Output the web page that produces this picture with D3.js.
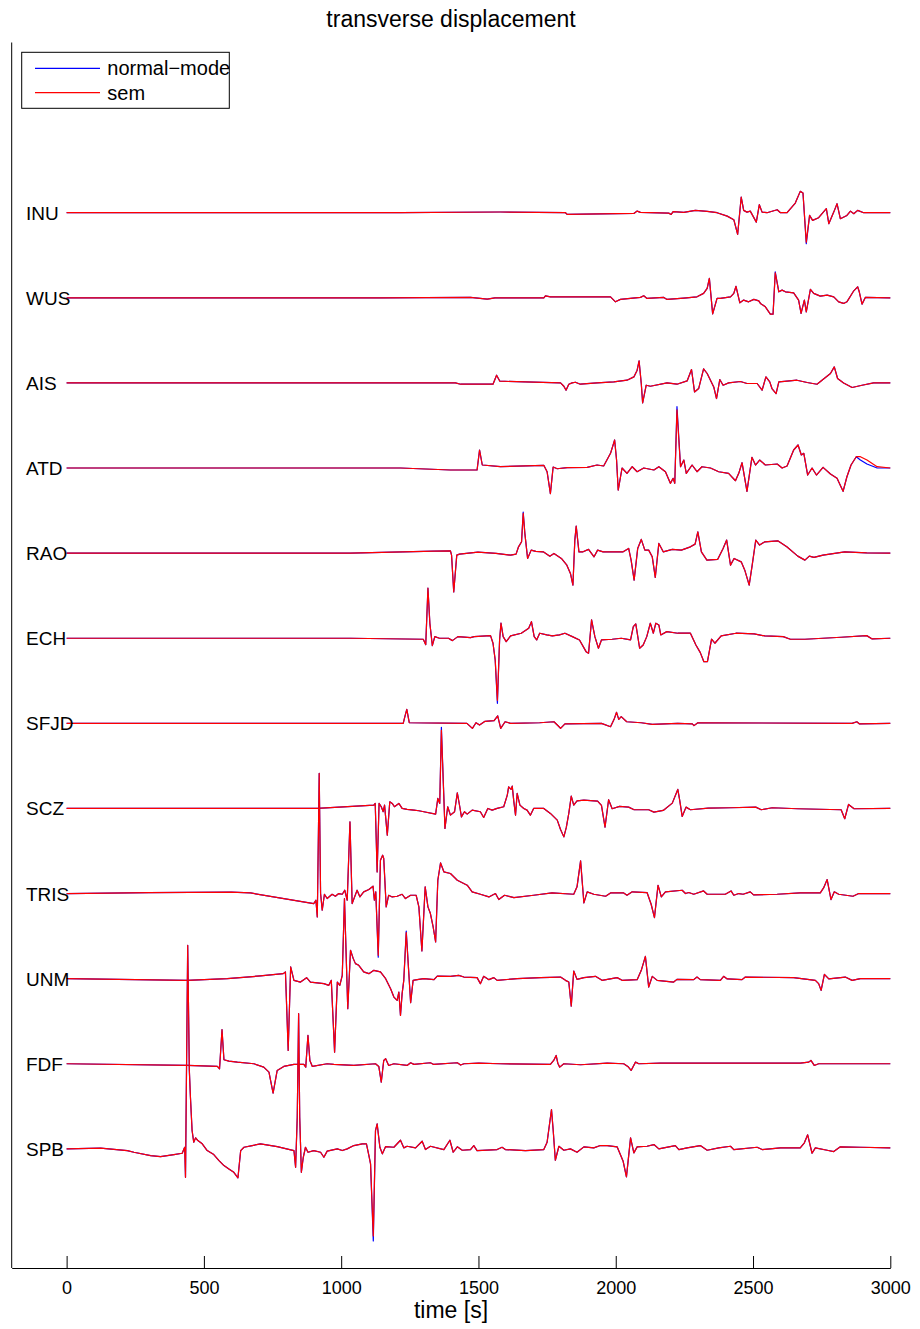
<!DOCTYPE html>
<html>
<head>
<meta charset="utf-8">
<script src="https://cdnjs.cloudflare.com/ajax/libs/d3/7.8.5/d3.min.js"></script>
<style>
  body { margin: 0; background: #fff; }
  text { font-family: "Liberation Sans", Arial, Helvetica, sans-serif; fill: #000; }
</style>
</head>
<body>
<svg id="chart" width="920" height="1329"></svg>
<script>
// station names top to bottom, and their vertical offsets
let stations = ['INU', 'WUS', 'AIS', 'ATD', 'RAO', 'ECH', 'SFJD', 'SCZ', 'TRIS', 'UNM', 'FDF', 'SPB']
let stationOffsets = [12, 11, 10, 9, 8, 7, 6, 5, 4, 3, 2, 1]
let timeTicks = [0, 500, 1000, 1500, 2000, 2500, 3000]
// amplitudes below are given in 1/85 of the spacing between two traces
let ampPerTrace = 85

// sem traces: [time (s), amplitude]
let INU = [[0,0],[1216,0],[1580,0.7],[1817,0],[1823,-1.7],[2066,-0.7],[2078,1.6],[2090,0.3],[2193,-0.4],[2202,-1.7],[2209,1],[2248,0.3],[2290,2.3],[2333,1.3],[2369,0],[2406,-3.4],[2430,-7],[2444,-21.7],[2457,15.6],[2466,2.3],[2478,0.6],[2490,1.6],[2512,-9.4],[2523,8],[2533,0.6],[2551,0],[2588,3],[2600,0],[2624,0],[2654,9.6],[2672,21.3],[2682,19.6],[2694,-29.4],[2706,-2.7],[2717,-7.7],[2739,-5],[2767,4],[2776,-11],[2794,0.6],[2806,9],[2818,-6],[2842,-2.7],[2855,1.6],[2867,-1],[2881,2.3],[2903,0],[3000,0]]
let WUS = [[0,0],[1143,0],[1471,0.4],[1532,-1.3],[1560,0],[1738,0],[1744,2],[1762,1],[1981,1],[1999,-4],[2017,-1.6],[2090,0.4],[2102,2],[2114,-0.6],[2175,0.4],[2187,-1.6],[2248,-0.3],[2296,1],[2320,4.4],[2333,9.4],[2341,19.4],[2353,-16],[2369,-0.6],[2381,-0.6],[2418,1],[2430,4.4],[2438,11.5],[2452,-5],[2466,-2.3],[2484,-4],[2503,-1.6],[2521,-3],[2527,-5.6],[2545,-9],[2563,-16.3],[2573,-16.3],[2581,25],[2594,6],[2606,7.7],[2618,6],[2648,5],[2666,-2.3],[2675,-15.6],[2687,-2.3],[2694,-14],[2709,8.4],[2721,4.4],[2745,1.7],[2770,2.7],[2794,1],[2812,-4],[2830,-5.6],[2842,-4],[2867,7],[2881,11],[2887,6],[2897,-6.3],[2909,0.4],[3000,0]]
let AIS = [[0,0],[1416,0],[1435,-1.3],[1553,-1.3],[1566,7.7],[1578,1.7],[1701,0.7],[1799,0],[1811,-3.3],[1819,-7.3],[1829,-1.3],[1841,0],[1853,0.7],[1871,-1.3],[1932,0],[1993,1],[2041,2.7],[2066,6],[2078,12.7],[2085,22],[2093,-0.6],[2098,-20],[2111,-2.3],[2126,-3.3],[2187,0],[2223,-1.3],[2260,2],[2276,13.4],[2287,-9],[2302,-5.6],[2320,14],[2333,9.4],[2357,-4],[2367,-15.6],[2379,3.4],[2391,-2.3],[2411,0],[2454,1.4],[2478,-0.6],[2515,-0.6],[2533,-7.3],[2547,6],[2561,1],[2569,-5.6],[2584,-10.6],[2594,1],[2624,1.7],[2660,2.7],[2697,0.4],[2733,-1.3],[2782,9.4],[2796,16],[2808,4.4],[2830,0],[2861,-4.6],[2897,-2.3],[2939,0],[3000,0]]
let ATD = [[0,0],[1216,0],[1398,-2],[1495,-2],[1504,18],[1514,3],[1580,1.3],[1738,2.7],[1750,-3.7],[1762,-25.6],[1772,1],[1787,-0.7],[1823,0.3],[1896,0.7],[1932,3],[1956,2],[1981,14.7],[1996,28],[2003,8],[2009,-22],[2023,0],[2041,-5.3],[2060,1.3],[2078,-3.7],[2102,0],[2139,-2],[2157,1.3],[2181,-3.7],[2199,-15.3],[2209,-10.3],[2215,-15.3],[2223,58],[2236,1.3],[2248,8],[2257,-5.3],[2278,3],[2296,-3.7],[2314,1.3],[2345,0],[2375,-3.7],[2411,-5.3],[2436,-12.7],[2448,-5.3],[2460,5.3],[2478,-23.3],[2496,10.7],[2509,3],[2524,8],[2545,3],[2588,4],[2606,0],[2624,2],[2648,18],[2664,23],[2676,13],[2685,14.7],[2699,-7],[2715,0],[2731,-7],[2755,0.7],[2782,-6],[2806,-10.3],[2828,-23.3],[2842,-8.7],[2857,3],[2876,11.3],[2891,11.3],[2915,8],[2952,1.3],[3000,0]]
let RAO = [[0,0],[1034,0],[1339,2],[1398,2.3],[1402,-2],[1410,-38.7],[1421,-2],[1431,-1],[1498,1],[1564,-0.3],[1617,-2],[1637,-1],[1646,6.3],[1657,11.3],[1663,39.7],[1669,19.7],[1679,-5.3],[1692,3],[1709,1.7],[1736,1.3],[1760,-3],[1775,-0.3],[1802,-5.3],[1822,-12],[1835,-20.3],[1844,-32],[1851,13],[1856,27],[1866,1.3],[1881,1.3],[1901,3.7],[1921,-3.7],[1934,3],[1954,1.3],[2001,1.3],[2027,1.3],[2047,4.7],[2056,-7],[2067,-27],[2080,4.7],[2093,13.7],[2106,3],[2120,3],[2133,-3.7],[2144,-24.3],[2157,9.7],[2173,1.3],[2206,3.7],[2239,3],[2272,6.3],[2289,9],[2299,21.3],[2312,1.3],[2332,-7],[2371,-6.3],[2391,4.7],[2404,13],[2418,-12],[2431,-5.3],[2457,-8.7],[2470,-17],[2486,-32],[2497,-12],[2510,13],[2524,8],[2543,11.3],[2590,12.3],[2623,6.3],[2663,-3],[2689,-7],[2705,-3],[2722,-4.3],[2755,-2],[2834,1.3],[2914,0.3],[3000,0]]
let ECH = [[0,0],[1034,0],[1299,-1],[1308,-6.4],[1316,50],[1323,15],[1332,-7.4],[1341,1.6],[1358,0],[1391,0],[1405,-2.4],[1425,1.6],[1471,0.6],[1484,1.6],[1544,2.6],[1553,-5],[1561,-21.7],[1569,-62],[1577,-1.7],[1582,15],[1590,1.6],[1601,-3.4],[1617,2.3],[1656,5],[1683,10],[1693,16.6],[1703,1.6],[1712,-1.7],[1723,5],[1749,3.3],[1769,2.3],[1795,3.3],[1815,5],[1842,1.6],[1868,-1.7],[1892,-13.4],[1901,-15],[1912,18.3],[1924,1.6],[1937,-10],[1948,-1.7],[1987,-1],[2020,0],[2054,-1.7],[2064,11.6],[2073,14.3],[2087,-10],[2100,-6.7],[2113,1.6],[2126,15],[2137,5],[2146,15],[2157,13.3],[2164,3.3],[2186,6.6],[2226,5],[2272,5],[2292,-6.7],[2308,-14.4],[2321,-23.4],[2334,-23.4],[2349,-1],[2361,-5],[2384,2.3],[2438,5],[2504,4.3],[2543,2.3],[2610,1.6],[2636,-1],[2689,-1],[2755,0],[2821,1],[2914,2.6],[2934,-0.7],[3000,0]]
let SFJD = [[0,0],[1226,0],[1232,6.7],[1239,14],[1248,0.6],[1458,0],[1478,-5],[1491,0.6],[1504,-1.7],[1524,2],[1557,2.7],[1570,7.5],[1581,-5],[1597,1.6],[1617,0],[1723,0.6],[1775,1.6],[1791,-2.7],[1799,-5],[1815,-0.6],[1948,0],[1981,-3.4],[1994,4],[2003,11],[2011,4],[2020,6.7],[2040,1.6],[2093,0.6],[2133,-1],[2226,0],[2279,-0.6],[2285,-2.3],[2299,0.6],[2861,0],[2878,1.6],[2888,-0.6],[3000,0]]
let SCZ = [[0,0],[913,0],[1119,3.3],[1124,5],[1131,-63.4],[1138,5],[1146,1.7],[1153,-3.3],[1158,3.3],[1168,-26.7],[1177,6.7],[1186,5],[1194,1.7],[1210,5],[1222,0],[1240,-1],[1265,-1.7],[1283,-2.3],[1301,-3.3],[1344,-5.7],[1352,10],[1359,5],[1365,78],[1378,-20],[1388,1.7],[1398,-6.7],[1413,-3.3],[1423,15.6],[1432,1.7],[1438,-8.4],[1449,-3.3],[1459,-5.7],[1477,-1.7],[1507,-3.3],[1519,-9],[1534,0],[1550,-1.7],[1568,0],[1592,1.7],[1605,13.3],[1610,21.6],[1619,19],[1623,22.3],[1629,6.6],[1635,-6.7],[1641,15],[1651,3.3],[1665,0],[1677,-1.7],[1689,-6.7],[1701,0],[1738,0],[1762,-5],[1787,-11.7],[1799,-21],[1811,-28.4],[1820,-19],[1829,-5],[1838,12.3],[1847,3.3],[1859,7.6],[1884,8.3],[1934,7.3],[1948,3],[1961,-18.7],[1974,8.7],[1987,-0.3],[2014,2],[2047,1.3],[2067,-1.3],[2120,-1.3],[2139,-3.7],[2173,-2],[2206,5.3],[2226,19],[2232,9.7],[2242,-8],[2256,1.3],[2272,-1.3],[2337,0.3],[2418,0.7],[2510,1.3],[2530,-1.3],[2570,0.7],[2663,-0.3],[2821,-1.3],[2834,-10.3],[2848,4],[2868,-0.3],[3000,0]]
let TRIS = [[0,0],[300,1],[600,1.5],[670,0.6],[900,-10],[908,-6.7],[913,-23.4],[920,120],[925,0],[931,-16.7],[939,-0.7],[949,-5],[967,-0.7],[979,-2.7],[991,0],[1004,-0.7],[1013,3.3],[1022,-6.7],[1032,71.7],[1040,-10],[1049,-3.3],[1058,3.3],[1068,-3.3],[1082,1.7],[1101,4],[1116,7.3],[1121,-6.7],[1126,1.7],[1135,-61.7],[1143,33.3],[1151,38.3],[1155,35],[1164,-13.4],[1173,-1.7],[1186,-3.4],[1204,-2.7],[1222,-0.7],[1234,-5],[1253,-1.7],[1273,-1.7],[1283,-13.3],[1294,-57.4],[1306,6.7],[1316,-13.3],[1325,-20],[1335,-33.4],[1344,-48.4],[1352,13.3],[1362,30.6],[1374,21.7],[1398,20],[1423,13.3],[1459,8.3],[1477,1.7],[1507,-0.7],[1538,-3.4],[1562,0],[1574,-6],[1595,-1.7],[1629,-4],[1701,-1.7],[1768,0.6],[1847,-0.7],[1859,6.7],[1872,32.6],[1884,-9.4],[1896,1.7],[1920,-0.7],[1963,-2.7],[1981,0.6],[2029,0.6],[2041,-1.7],[2060,1.7],[2114,1],[2129,-10.7],[2141,-24],[2154,8.3],[2166,-3.4],[2181,1.7],[2242,3.3],[2254,0],[2266,1],[2284,-0.7],[2320,2.6],[2333,-0.7],[2399,-0.7],[2420,2.6],[2430,-1.7],[2448,0],[2464,-0.7],[2490,1.7],[2502,-1.3],[2588,-0.7],[2672,0.6],[2745,0.6],[2757,5.6],[2770,14],[2784,-6],[2796,1.7],[2812,-0.7],[2864,-2.7],[2885,0],[3000,0]]
let UNM = [[0,0],[439,-1.7],[585,0],[706,2.7],[789,5],[797,6.7],[807,-71.7],[816,11.7],[828,-1.7],[852,-3.4],[874,1],[888,-3.4],[937,-5],[955,-6.7],[964,-1.7],[976,-73.4],[986,-3.4],[995,-6.7],[1004,3.3],[1012,80],[1024,-30],[1034,28.3],[1044,20],[1052,15],[1064,13.3],[1082,6.7],[1101,5],[1119,8.3],[1143,6.7],[1162,0],[1180,-10],[1192,-18.4],[1204,-21.7],[1210,-13.4],[1216,-36.7],[1222,-15],[1228,-1.7],[1237,46],[1253,-24],[1262,-1.7],[1277,-1],[1301,0],[1338,-1],[1350,2.6],[1398,2.3],[1428,3.3],[1447,1.6],[1495,1],[1507,-5],[1519,2.3],[1538,-1],[1556,1],[1568,-1.7],[1641,0],[1726,1],[1799,1.6],[1817,-1.7],[1829,-3.4],[1838,-27.4],[1847,7.6],[1859,-0.7],[1884,1],[1926,2.3],[1950,-1.7],[2005,1],[2023,-1.7],[2078,-1],[2093,8.3],[2108,22.3],[2120,-8.4],[2133,2.3],[2151,-1.7],[2211,-3.4],[2223,-0.7],[2284,-1],[2296,1.6],[2308,-1],[2381,-1.7],[2393,2.3],[2406,-0.3],[2460,-1],[2472,1.6],[2648,1],[2727,-1.7],[2739,-5],[2748,-11.7],[2760,4.3],[2776,-0.3],[2836,1.6],[2861,-1.7],[2891,0],[3000,0]]
let FDF = [[0,0],[439,-1.7],[549,-2.7],[557,-5],[566,34],[573,4],[591,2.7],[622,1.6],[682,0],[718,-3.4],[737,-8.4],[752,-29.4],[767,-6.7],[791,-2.7],[828,-0.7],[864,-0.7],[871,-3.4],[879,28.3],[886,3.3],[895,-2.7],[949,0],[973,-0.7],[1046,-1.7],[1125,0],[1137,-2.7],[1146,-18.4],[1155,3.3],[1162,5],[1173,-1.7],[1192,0],[1240,-1.7],[1253,1],[1265,-0.6],[1325,1],[1337,-0.7],[1423,1],[1435,-1.3],[1447,0],[1501,0.6],[1580,0],[1762,-0.7],[1774,3.3],[1783,8.3],[1789,0.6],[1796,-3.4],[1811,0],[1872,-1],[1969,0.6],[2029,0],[2044,-2.7],[2056,-6.7],[2072,1.6],[2084,0],[2163,0.6],[2672,0.6],[2703,1.6],[2711,3.3],[2723,-1.7],[2739,0],[3000,0]]
let SPB = [[0,0],[124,0.7],[221,-1.7],[245,-3.4],[306,-6.7],[342,-7.7],[391,-5.7],[421,-4.4],[430,1.6],[433,-28.4],[441,203.3],[447,78.3],[451,51.6],[457,18.3],[463,6.7],[470,11],[478,8.3],[494,5],[512,-1.7],[536,-5.7],[555,-11.7],[573,-16.7],[591,-20],[609,-23.4],[624,-29],[634,-1.7],[646,1.6],[676,3.3],[706,5],[767,2.3],[828,-1.7],[834,-18.4],[840,31.6],[845,135],[849,31.6],[855,-23.4],[862,-8.4],[870,1.6],[879,-3.4],[900,-1.7],[925,-3.4],[937,-8.4],[949,-2.3],[986,0],[1004,-1.7],[1022,0],[1046,3.3],[1077,5],[1092,5],[1101,-6.7],[1107,-15],[1117,-87],[1125,18.3],[1131,25],[1141,1.6],[1150,-5],[1162,2.3],[1192,1.6],[1216,8.6],[1228,1],[1240,2.6],[1271,1],[1295,7.6],[1307,-0.7],[1325,2.6],[1374,-0.7],[1396,8.6],[1408,-3.4],[1423,2],[1441,-1.4],[1471,-0.7],[1483,3.3],[1495,-1.7],[1568,-0.7],[1586,1.6],[1598,-0.7],[1671,-1.7],[1738,-0.7],[1750,6.6],[1766,39.3],[1772,19.3],[1780,-11.4],[1793,2.6],[1811,-1.4],[1835,0],[1859,-3.4],[1884,2],[1920,1],[1944,3.3],[1969,3.3],[2005,2],[2027,-12.4],[2039,-28],[2054,11],[2066,-4],[2078,2],[2114,2.6],[2139,4.3],[2157,0],[2175,1],[2217,3.3],[2230,-0.7],[2260,1],[2308,3.3],[2333,-1.4],[2375,1],[2418,2.6],[2430,-0.7],[2515,1.6],[2533,-0.7],[2600,1],[2672,1],[2687,6],[2699,14],[2715,-4.4],[2727,1],[2770,-1.4],[2794,-2.7],[2818,2],[2891,1.6],[3000,1]]

// where the normal-mode trace differs from sem: [station, time, amplitude]
let normalModeDiffs = [
  ['INU', 2694, -31], ['WUS', 2581, 26], ['ATD', 2223, 61.3], ['ATD', 2891, 8], ['ATD', 2915, 4], ['ATD', 2952, 0],
  ['RAO', 1663, 41], ['ECH', 1569, -65], ['SCZ', 1365, 81], ['TRIS', 1135, -63.5],
  ['UNM', 1237, 47.5], ['SPB', 1117, -92]
]

let semTraces = { INU, WUS, AIS, ATD, RAO, ECH, SFJD, SCZ, TRIS, UNM, FDF, SPB }

let svg = d3.select('#chart')

let xScale = d3.scaleLinear().domain([-200, 3000]).range([11.7, 890.3])
let yScale = d3.scaleLinear().domain([-0.4, 14]).range([1268, 42.5])

// title
svg.append('text')
   .attr('x', 451)
   .attr('y', 26.5)
   .attr('text-anchor', 'middle')
   .style('font-size', '23px')
   .text('transverse displacement')

// bottom axis, ticks pointing inward
let xAxis = d3.axisBottom(xScale)
              .tickValues(timeTicks)
              .tickSize(-12)
              .tickSizeOuter(0)
              .tickPadding(13)
              .tickFormat(d3.format('d'))

let axisG = svg.append('g')
   .attr('transform', 'translate(0,1268)')
   .call(xAxis)
axisG.selectAll('text').style('font-size', '18px').attr('fill', '#000')
axisG.selectAll('line, path').attr('stroke', '#000')

// left axis line only
svg.append('line')
   .attr('x1', xScale(-200)).attr('x2', xScale(-200))
   .attr('y1', yScale(14)).attr('y2', yScale(-0.4))
   .attr('stroke', '#000')

svg.append('text')
   .attr('x', 451)
   .attr('y', 1318)
   .attr('text-anchor', 'middle')
   .style('font-size', '23px')
   .text('time [s]')

// traces
stations.forEach((name, i) => {
    let offset = stationOffsets[i]
    let sem = semTraces[name]
    let nm = sem.map(p => {
        let diff = normalModeDiffs.find(r => r[0] == name && r[1] == p[0])
        return diff ? [p[0], diff[2]] : p
    })

    let line = d3.line()
                 .x(d => xScale(d[0]))
                 .y(d => yScale(offset + d[1] / ampPerTrace))

    svg.append('path')
       .datum(nm)
       .attr('d', line)
       .attr('fill', 'none')
       .attr('stroke', '#0000ff')
       .attr('stroke-width', 1.2)
       .attr('stroke-linejoin', 'round')

    svg.append('path')
       .datum(sem)
       .attr('d', line)
       .attr('fill', 'none')
       .attr('stroke', '#ff0000')
       .attr('stroke-width', 1.2)
       .attr('stroke-linejoin', 'round')

    svg.append('text')
       .attr('x', 26)
       .attr('y', yScale(offset) + 7)
       .style('font-size', '19px')
       .text(name)
})

// legend
let legend = svg.append('g')
legend.append('rect')
      .attr('x', 21.7).attr('y', 52.3)
      .attr('width', 207.6).attr('height', 56)
      .attr('fill', '#fff')
      .attr('stroke', '#000')

let legendItems = [['normal\u2212mode', '#0000ff'], ['sem', '#ff0000']]
legendItems.forEach((item, i) => {
    let ly = 68.3 + i * 24.4
    legend.append('line')
          .attr('x1', 35).attr('x2', 100)
          .attr('y1', ly).attr('y2', ly)
          .attr('stroke', item[1])
          .attr('stroke-width', 1.2)
    legend.append('text')
          .attr('x', 107.3)
          .attr('y', ly + 7)
          .style('font-size', '20px')
          .text(item[0])
})
</script>
</body>
</html>
